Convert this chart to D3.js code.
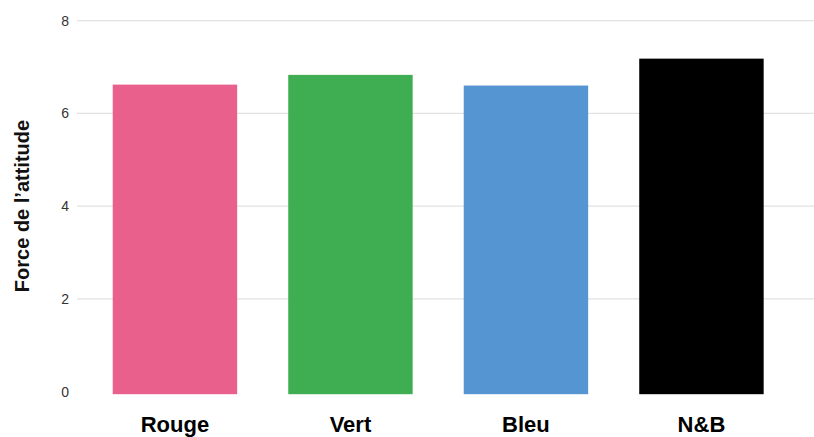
<!DOCTYPE html>
<html><head><meta charset="utf-8">
<script src="https://cdn.jsdelivr.net/npm/d3@7"></script>
<style>body{margin:0;background:#fff;} svg{display:block;font-family:"Liberation Sans",Arial,Helvetica,sans-serif;}</style>
</head><body><svg id="c" width="814" height="437"></svg>
<script>
const categories = ["Rouge","Vert","Bleu","N&B"];
const values = [6.62, 6.83, 6.60, 7.18];
const colors = ["#E9608D","#3FAE53","#5596D2","#000000"];
const yTicks = [0,2,4,6,8];
const yLabel = "Force de l\u2019attitude";

const svg = d3.select("#c");
const y = d3.scaleLinear().domain([0,8]).range([391.7,20.6]);
const x = d3.scaleBand().domain(categories).range([87.2,789.2]).paddingInner(0.291).paddingOuter(0.1455);

// gridlines
svg.append("g").selectAll("line").data(yTicks.filter(d=>d>0)).join("line")
  .attr("x1",77).attr("x2",814).attr("y1",d=>y(d)).attr("y2",d=>y(d))
  .attr("stroke","#e2e2e2").attr("stroke-width",1.2);

// y tick labels
svg.append("g").selectAll("text").data(yTicks).join("text")
  .attr("x",69).attr("y",d=>y(d)).attr("dy","0.35em").attr("text-anchor","end")
  .attr("font-size",14).attr("fill","#333").text(d=>d);

// bars
svg.append("g").selectAll("rect").data(categories).join("rect")
  .attr("x",d=>x(d)).attr("width",x.bandwidth())
  .attr("y",(d,i)=>y(values[i])).attr("height",(d,i)=>y(0)+2.5-y(values[i]))
  .attr("fill",(d,i)=>colors[i]);

// x labels
svg.append("g").selectAll("text").data(categories).join("text")
  .attr("x",d=>x(d)+x.bandwidth()/2).attr("y",432).attr("text-anchor","middle")
  .attr("font-size",22).attr("font-weight","bold").attr("fill","#000").text(d=>d);

// y axis title
svg.append("text").attr("transform","translate(29,206) rotate(-90)")
  .attr("text-anchor","middle").attr("font-size",20).attr("font-weight","bold").attr("fill","#111")
  .text(yLabel);
</script></body></html>
